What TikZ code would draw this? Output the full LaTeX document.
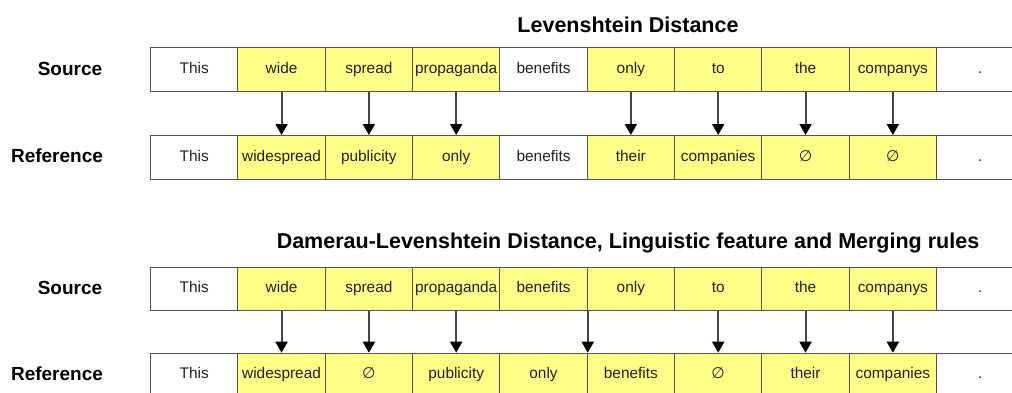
\documentclass[tikz,border=0pt]{standalone}
\usepackage{fontspec}
\setmainfont{Liberation Sans}
\newfontfamily\symfont{DejaVu Sans}
\usetikzlibrary{arrows.meta}
\definecolor{cellyel}{HTML}{FFFF88}
\definecolor{cellline}{HTML}{555555}
\definecolor{celltext}{HTML}{222222}
\definecolor{arrowgray}{HTML}{444444}
\newcommand{\nul}{{\symfont\char"2205}}
\tikzset{
  cellbox/.style={draw=cellline, line width=1.1pt, minimum width=87.33pt, minimum height=43.5pt,
    inner sep=0pt, text height=11pt, text depth=3.5pt, anchor=north west,
    font=\fontsize{15.4}{17}\selectfont, text=celltext},
  rowlabel/.style={font=\bfseries\fontsize{19}{22}\selectfont, text=black},
  titletext/.style={font=\bfseries\fontsize{21.5}{24}\selectfont, text=black},
  maparrow/.style={draw=arrowgray, line width=2pt, -{Triangle[length=11pt,width=12pt,color=black]}}
}
\begin{document}
\begin{tikzpicture}[x=1pt,y=-1pt]
\useasboundingbox (0,0) rectangle (1012,392);
\clip (0,0) rectangle (1012,392);
% titles
\node[titletext] (t1) at (628,25) {Levenshtein Distance};
\node[titletext] (t2) at (628,243) {Damerau-Levenshtein Distance, Linguistic feature and Merging rules};
% labels
\node[rowlabel] (ls1) at (70,69) {Source};
\node[rowlabel] (lr1) at (57,156) {Reference};
\node[rowlabel] (ls2) at (70,288) {Source};
\node[rowlabel] (lr2) at (57,374) {Reference};
% row 1 source
\foreach \t/\f [count=\i from 0] in {This/white, wide/cellyel, spread/cellyel, propaganda/cellyel, benefits/white, only/cellyel, to/cellyel, the/cellyel, companys/cellyel, ./white}
  \node[cellbox, fill=\f] (sa\i) at ({150+\i*87.33},47) {\t};
% row 1 reference
\foreach \t/\f [count=\i from 0] in {This/white, widespread/cellyel, publicity/cellyel, only/cellyel, benefits/white, their/cellyel, companies/cellyel, \nul/cellyel, \nul/cellyel, ./white}
  \node[cellbox, fill=\f] (ra\i) at ({150+\i*87.33},135) {\t};
% row 2 source
\foreach \t/\f [count=\i from 0] in {This/white, wide/cellyel, spread/cellyel, propaganda/cellyel, benefits/cellyel, only/cellyel, to/cellyel, the/cellyel, companys/cellyel, ./white}
  \node[cellbox, fill=\f] (sb\i) at ({150+\i*87.33},266.7) {\t};
% row 2 reference
\foreach \t/\f [count=\i from 0] in {This/white, widespread/cellyel, \nul/cellyel, publicity/cellyel, only/cellyel, benefits/cellyel, \nul/cellyel, their/cellyel, companies/cellyel, ./white}
  \node[cellbox, fill=\f] (rb\i) at ({150+\i*87.33},352.7) {\t};
% arrows top
\foreach \i in {1,2,3,5,6,7,8}
  \draw[maparrow] (sa\i.south) -- (ra\i.north);
% arrows bottom
\foreach \i in {1,2,3,6,7,8}
  \draw[maparrow] (sb\i.south) -- (rb\i.north);
\draw[maparrow] (sb4.south east) -- (rb4.north east);
\end{tikzpicture}
\end{document}
